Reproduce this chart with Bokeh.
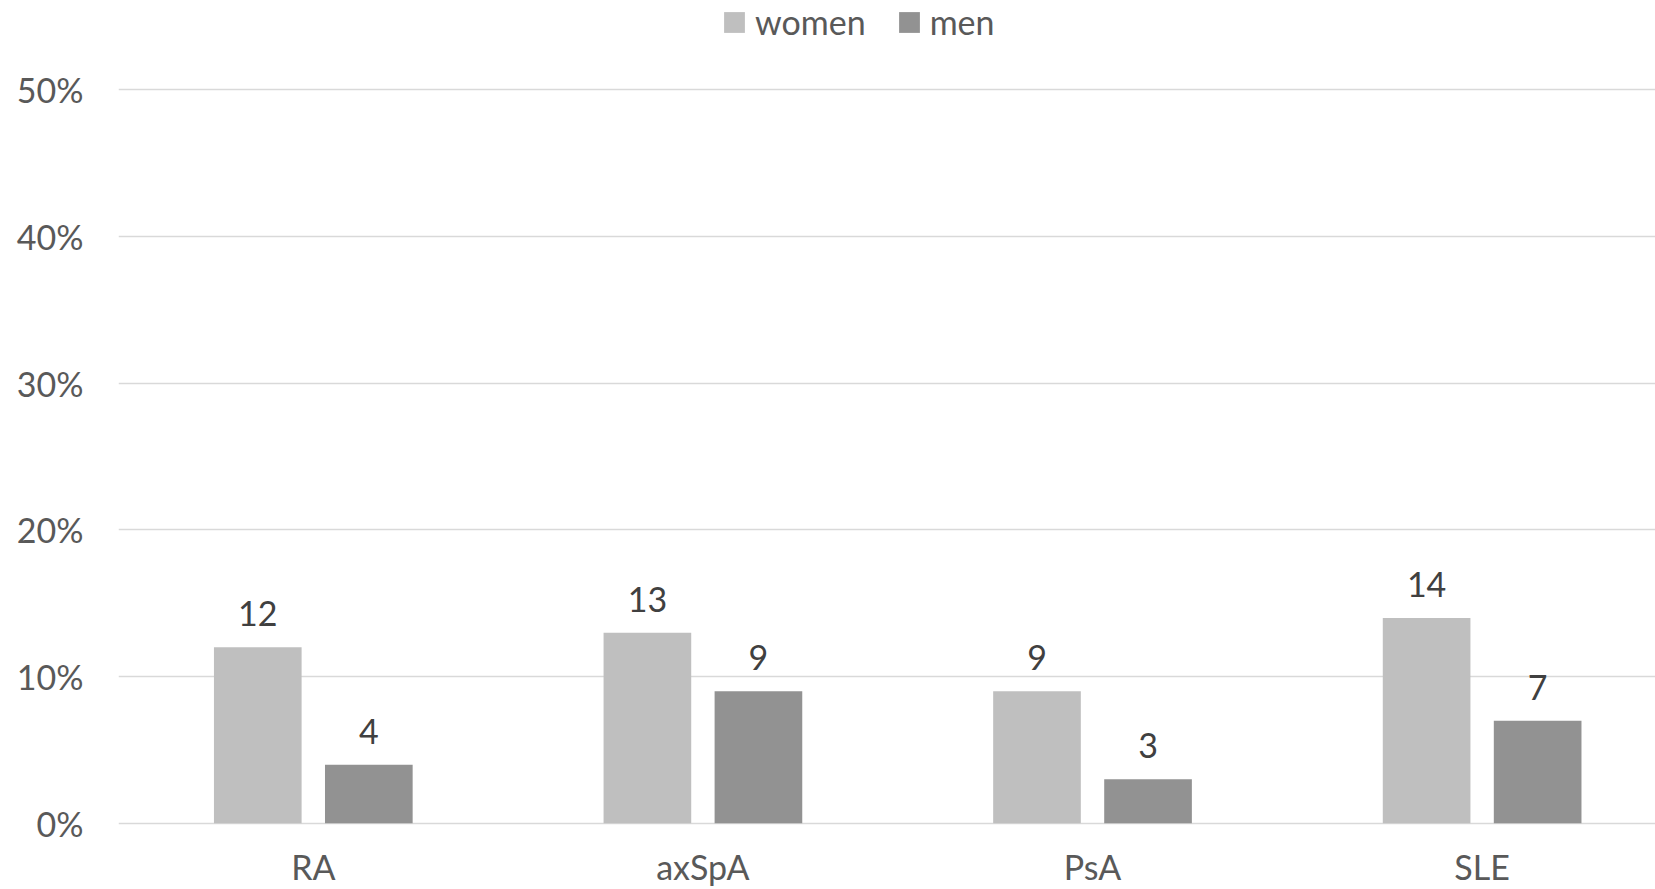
from bokeh.plotting import figure
from bokeh.models import (Range1d, FixedTicker, ColumnDataSource, LabelSet,
                          Legend, LegendItem)
from bokeh.core.properties import value
from bokeh.embed import file_html
from bokeh.resources import INLINE

# ---- data ----
categories = ["RA", "axSpA", "PsA", "SLE"]
women = [12, 13, 9, 14]
men = [4, 9, 3, 7]
series_names = ["women", "men"]
y_ticks = [0, 10, 20, 30, 40, 50]
y_tick_labels = ["0%", "10%", "20%", "30%", "40%", "50%"]

# ---- style ----
FONT = "Lato"
FS = "34px"
WOMEN_COLOR = "#BFBFBF"
MEN_COLOR = "#929292"
GRID_COLOR = "#D9D9D9"
TICK_COLOR = "#595959"
LABEL_COLOR = "#404040"

centers = [i + 0.5 for i in range(len(categories))]
off = 0.1425
bw = 0.225

p = figure(width=1655, height=889, output_backend="svg", toolbar_location=None,
           x_range=Range1d(0, 3.945), y_range=Range1d(-4.51, 56.09),
           x_axis_location=None,
           min_border_left=118, min_border_right=0,
           min_border_top=0, min_border_bottom=0)
p.outline_line_color = None
p.background_fill_color = "white"
p.border_fill_color = "white"

w_src = ColumnDataSource(dict(x=[c - off for c in centers], top=women,
                              label=[str(v) for v in women]))
m_src = ColumnDataSource(dict(x=[c + off for c in centers], top=men,
                              label=[str(v) for v in men]))

rw = p.vbar(x="x", top="top", bottom=0, width=bw, source=w_src,
            fill_color=WOMEN_COLOR, line_color=None)
rm = p.vbar(x="x", top="top", bottom=0, width=bw, source=m_src,
            fill_color=MEN_COLOR, line_color=None)

# value labels
for src in (w_src, m_src):
    p.add_layout(LabelSet(x="x", y="top", text="label", source=src,
                          text_align="center", text_baseline="alphabetic",
                          y_offset=21, text_font=value(FONT),
                          text_font_size=value(FS),
                          text_color=value(LABEL_COLOR)))

# category labels
cat_src = ColumnDataSource(dict(x=centers, y=[0] * len(categories), text=categories))
p.add_layout(LabelSet(x="x", y="y", text="text", source=cat_src,
                      text_align="center", text_baseline="alphabetic", y_offset=-57,
                      text_font=value(FONT), text_font_size=value(FS),
                      text_color=value(TICK_COLOR)))

# y axis
p.yaxis.ticker = FixedTicker(ticks=y_ticks)
p.yaxis.major_label_overrides = {t: l for t, l in zip(y_ticks, y_tick_labels)}
p.yaxis.axis_line_color = None
p.yaxis.major_tick_line_color = None
p.yaxis.minor_tick_line_color = None
p.yaxis.major_label_standoff = 29
p.yaxis.major_label_text_font = FONT
p.yaxis.major_label_text_font_size = FS
p.yaxis.major_label_text_color = TICK_COLOR

p.ygrid.ticker = FixedTicker(ticks=y_ticks)
p.ygrid.grid_line_color = GRID_COLOR
p.ygrid.grid_line_width = 1.5
p.xgrid.visible = False

legend = Legend(items=[LegendItem(label=series_names[0], renderers=[rw]),
                       LegendItem(label=series_names[1], renderers=[rm])],
                orientation="horizontal", location=(603, 847),
                glyph_width=26, glyph_height=26, label_standoff=8, spacing=30,
                padding=0, margin=0, border_line_color=None,
                background_fill_alpha=0,
                label_text_font=FONT, label_text_font_size=FS,
                label_text_color=TICK_COLOR)
p.add_layout(legend)

open("out.html", "w").write(file_html(p, INLINE))
